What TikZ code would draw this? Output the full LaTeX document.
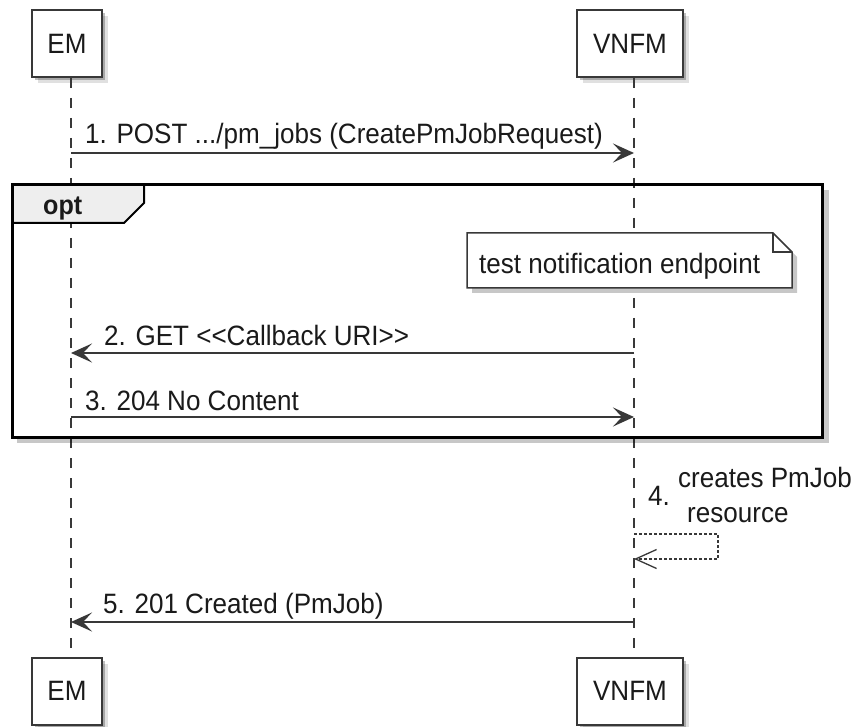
\documentclass[tikz,border=0pt]{standalone}
\usepackage{fontspec}
\setmainfont{Liberation Sans}[FakeStretch=0.93]
\usetikzlibrary{arrows.meta,shadows}
\definecolor{boxc}{HTML}{383838}
\definecolor{tabc}{HTML}{EEEEEE}
\definecolor{txtc}{HTML}{1A1A1A}
\tikzset{
  sh/.style={drop shadow={shadow xshift=3pt,shadow yshift=-3pt,opacity=0.25,fill=black},
             drop shadow={shadow xshift=6pt,shadow yshift=-6pt,opacity=0.12,fill=black}},
  participant/.style={draw=boxc, line width=2pt, fill=white, minimum height=67pt, inner sep=0pt, sh,
                      font=\fontsize{28}{32}\selectfont, text=txtc},
  lifeline/.style={draw=boxc, line width=1.4pt, dash pattern=on 10pt off 10pt},
  msg/.style={draw=boxc, line width=1.5pt, -{Stealth[length=21pt,width=19pt,inset=9pt]}},
  retmsg/.style={draw=boxc, line width=1.3pt, dash pattern=on 3pt off 2pt, -{Straight Barb[length=21pt,width=19pt]}},
  lbl/.style={anchor=base west, inner sep=0pt, font=\fontsize{28}{32}\selectfont, text=txtc},
}
\begin{document}
\begin{tikzpicture}[x=1pt,y=-1pt]
\useasboundingbox (0,0) rectangle (854,727);
\fill[white] (0,0) rectangle (854,727);

% participants
\node (emtop) [participant, minimum width=70pt] at (67,43.5) {EM};
\node (vntop) [participant, minimum width=106pt] at (630,43.5) {VNFM};
\node (embot) [participant, minimum width=70pt] at (67,691) {EM};
\node (vnbot) [participant, minimum width=106pt] at (630,691) {VNFM};

% lifelines
\draw[lifeline] ([xshift=4pt]emtop.south) -- ([xshift=4pt]embot.north);
\draw[lifeline] ([xshift=4pt]vntop.south) -- ([xshift=4pt]vnbot.north);

% opt frame
\node (frame) [anchor=north west, minimum width=810pt, minimum height=252pt, inner sep=0pt] at (12,185) {};
\fill[black, opacity=0.22] (823.5,190) rectangle (828.5,442.5);
\fill[black, opacity=0.22] (17,438.5) rectangle (823.5,442.5);
\draw[draw=black, line width=2pt, fill=tabc] (12,185) -- (144,185) -- (144,203) -- (124,223) -- (12,223) -- cycle;
\draw[black, line width=3pt] (frame.north west) rectangle (frame.south east);
\node (optlbl) [anchor=base west, inner sep=0pt, font=\bfseries\fontsize{27}{30}\selectfont, text=txtc] at (43,215) {opt};

% note
\fill[black, opacity=0.22] (472,238) -- (778,238) -- (797,257) -- (797,293) -- (472,293) -- cycle;
\filldraw[fill=white, draw=boxc, line width=1.5pt] (467,233) -- (773,233) -- (792,252) -- (792,288) -- (467,288) -- cycle;
\draw[boxc, line width=1.5pt] (773,233) -- (773,252) -- (792,252);
\node (note) [lbl] at (479,274) {test notification endpoint};

% message 1
\coordinate (m1a) at (71,153);
\coordinate (m1b) at (634,153);
\draw[msg] (m1a) -- (m1b);
\node (l1) [lbl] at (85,144) {1. POST .../pm\_jobs (CreatePmJobRequest)};

% message 2
\coordinate (m2a) at (634,353);
\coordinate (m2b) at (71,353);
\draw[msg] (m2a) -- (m2b);
\node (l2) [lbl] at (104,345) {2. GET <\kern0pt<Callback URI>\kern0pt>};

% message 3
\coordinate (m3a) at (71,417);
\coordinate (m3b) at (634,417);
\draw[msg] (m3a) -- (m3b);
\node (l3) [lbl] at (85,410) {3. 204 No Content};

% message 4 (self)
\coordinate (s4a) at (634,534);
\coordinate (s4b) at (718,534);
\coordinate (s4c) at (718,559);
\coordinate (s4d) at (634,559);
\draw[retmsg] (s4a) -- (s4b) -- (s4c) -- (s4d);
\node (l4n) [lbl] at (648,505) {4.};
\node (l4a) [lbl] at (678,487) {creates PmJob};
\node (l4b) [lbl] at (687,522) {resource};

% message 5
\coordinate (m5a) at (634,622);
\coordinate (m5b) at (71,622);
\draw[msg] (m5a) -- (m5b);
\node (l5) [lbl] at (103,613) {5. 201 Created (PmJob)};
\end{tikzpicture}
\end{document}
